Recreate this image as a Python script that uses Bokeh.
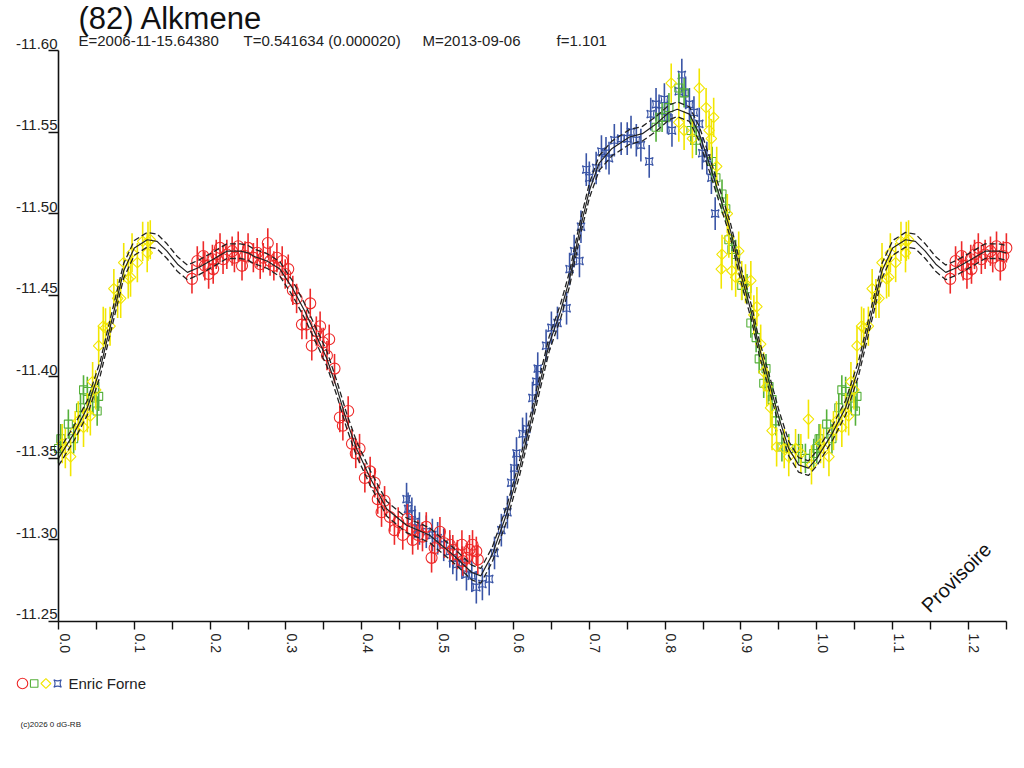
import math
import numpy as np
from bokeh.plotting import figure
from bokeh.models import Range1d, FixedTicker, Label
from bokeh.embed import file_html
from bokeh.resources import INLINE
from bokeh.core.properties import value

FONT = "Liberation Sans"

TITLE = "(82) Alkmene"
SUBTITLE_PARTS = ["E=2006-11-15.64380", "T=0.541634 (0.000020)", "M=2013-09-06", "f=1.101"]
OBSERVER = "Enric Forne"
STAMP = "Provisoire"
COPYRIGHT = "(c)2026 0 dG-RB"

x_ticks = [0.0, 0.1, 0.2, 0.3, 0.4, 0.5, 0.6, 0.7, 0.8, 0.9, 1.0, 1.1, 1.2]
x_minor = [0.05, 0.15, 0.25, 0.35, 0.45, 0.55, 0.65, 0.75, 0.85, 0.95, 1.05, 1.15, 1.25]
y_ticks = [-11.60, -11.55, -11.50, -11.45, -11.40, -11.35, -11.30, -11.25]

# Fourier fit (phase 0..1)
fit_phase = [0.000, 0.020, 0.038, 0.055, 0.073, 0.086, 0.100, 0.117, 0.130, 0.143,
             0.157, 0.170, 0.185, 0.204, 0.222, 0.240, 0.250, 0.257, 0.275, 0.292, 0.309,
             0.325, 0.341, 0.354, 0.367, 0.380, 0.393, 0.411, 0.433, 0.459, 0.489,
             0.520, 0.545, 0.557, 0.572, 0.591, 0.608, 0.625, 0.647, 0.662, 0.674,
             0.687, 0.700, 0.713, 0.730, 0.753, 0.770, 0.788, 0.805, 0.816, 0.832,
             0.845, 0.858, 0.871, 0.886, 0.901, 0.914, 0.924, 0.937, 0.950, 0.963,
             0.976, 0.989, 1.000]
fit_mag = [-11.350, -11.365, -11.381, -11.405, -11.440, -11.465, -11.479, -11.484, -11.483, -11.477,
           -11.469, -11.464, -11.467, -11.472, -11.477, -11.477, -11.476, -11.474, -11.471, -11.466, -11.454,
           -11.440, -11.424, -11.411, -11.393, -11.373, -11.356, -11.338, -11.319, -11.309, -11.303,
           -11.291, -11.280, -11.278, -11.291, -11.316, -11.344, -11.377, -11.420, -11.440, -11.460,
           -11.489, -11.514, -11.531, -11.540, -11.547, -11.549, -11.555, -11.562, -11.564, -11.561,
           -11.549, -11.531, -11.512, -11.490, -11.461, -11.439, -11.418, -11.397, -11.375, -11.356,
           -11.346, -11.344, -11.350]
fit_band = 0.0045

red_phase = [0.176, 0.183, 0.191, 0.193, 0.198, 0.203, 0.204, 0.208, 0.213, 0.217,
             0.222, 0.229, 0.232, 0.237, 0.242, 0.246, 0.250, 0.257, 0.262, 0.266,
             0.270, 0.276, 0.279, 0.284, 0.288, 0.295, 0.299, 0.303, 0.309, 0.314,
             0.321, 0.327, 0.332, 0.334, 0.340, 0.345, 0.349, 0.354, 0.357, 0.364,
             0.371, 0.375, 0.382, 0.387, 0.392, 0.397, 0.404, 0.411, 0.417, 0.421,
             0.426, 0.430, 0.437, 0.443, 0.448, 0.454, 0.460, 0.466, 0.467, 0.474,
             0.480, 0.485, 0.492, 0.496, 0.503, 0.509, 0.516, 0.520, 0.526, 0.532,
             0.533, 0.538, 0.542, 0.546, 0.551, 0.553]
red_mag = [-11.460, -11.471, -11.474, -11.468, -11.463, -11.472, -11.466, -11.475, -11.479, -11.472,
           -11.475, -11.477, -11.473, -11.480, -11.468, -11.474, -11.479, -11.473, -11.476, -11.469,
           -11.473, -11.482, -11.471, -11.468, -11.473, -11.471, -11.463, -11.466, -11.453, -11.448,
           -11.432, -11.432, -11.445, -11.419, -11.428, -11.431, -11.421, -11.413, -11.423, -11.405,
           -11.375, -11.370, -11.379, -11.359, -11.353, -11.356, -11.338, -11.342, -11.335, -11.325,
           -11.317, -11.324, -11.314, -11.306, -11.311, -11.303, -11.313, -11.306, -11.300, -11.303,
           -11.302, -11.308, -11.289, -11.295, -11.305, -11.298, -11.297, -11.294, -11.291, -11.297,
           -11.287, -11.289, -11.294, -11.297, -11.293, -11.288]
red_err = 0.009

green_phase = [0.000, 0.003, 0.013, 0.020, 0.029, 0.033, 0.038, 0.045, 0.051, 0.053,
               0.788, 0.796, 0.805, 0.818, 0.825, 0.834, 0.841, 0.862, 0.867, 0.875,
               0.880, 0.884, 0.888, 0.893, 0.901, 0.908, 0.913, 0.920, 0.924, 0.930,
               0.933, 0.937, 0.941, 0.946, 0.954, 0.963, 0.976, 0.985, 0.996]
green_mag = [-11.356, -11.362, -11.371, -11.362, -11.381, -11.392, -11.391, -11.387, -11.379, -11.388,
             -11.553, -11.559, -11.565, -11.577, -11.574, -11.551, -11.545, -11.532, -11.522, -11.512,
             -11.503, -11.484, -11.478, -11.475, -11.456, -11.454, -11.433, -11.424, -11.411, -11.396,
             -11.405, -11.394, -11.386, -11.373, -11.357, -11.356, -11.356, -11.350, -11.353]
green_err = 0.009

yellow_phase = [0.005, 0.009, 0.016, 0.022, 0.026, 0.033, 0.038, 0.042, 0.045, 0.049,
                0.053, 0.059, 0.062, 0.068, 0.073, 0.078, 0.082, 0.086, 0.092, 0.095,
                0.097, 0.104, 0.111, 0.117, 0.118, 0.121,
                0.808, 0.818, 0.825, 0.836, 0.845, 0.854, 0.858, 0.861, 0.864, 0.868,
                0.874, 0.875, 0.882, 0.884, 0.888, 0.893, 0.897, 0.901, 0.906, 0.913,
                0.917, 0.921, 0.926, 0.930, 0.934, 0.939, 0.941, 0.947, 0.957, 0.963,
                0.972, 0.979, 0.989, 0.993]
yellow_mag = [-11.359, -11.356, -11.351, -11.367, -11.373, -11.369, -11.378, -11.376, -11.397, -11.392,
              -11.419, -11.431, -11.430, -11.431, -11.454, -11.448, -11.448, -11.470, -11.460, -11.461,
              -11.476, -11.470, -11.483, -11.476, -11.483, -11.484,
              -11.580, -11.556, -11.551, -11.546, -11.577, -11.565, -11.551, -11.546, -11.559, -11.529,
              -11.466, -11.475, -11.500, -11.485, -11.465, -11.461, -11.477, -11.459, -11.457, -11.459,
              -11.438, -11.443, -11.420, -11.403, -11.394, -11.381, -11.367, -11.357, -11.356, -11.351,
              -11.356, -11.353, -11.374, -11.346]
yellow_err = 0.012

blue_phase = [0.459, 0.461, 0.466, 0.470, 0.476, 0.485, 0.493, 0.500, 0.508, 0.516,
              0.520, 0.525, 0.532, 0.538, 0.545, 0.551, 0.559, 0.568, 0.575, 0.584,
              0.592, 0.597, 0.601, 0.604, 0.612, 0.617, 0.625, 0.630, 0.632, 0.643,
              0.650, 0.658, 0.670, 0.674, 0.680, 0.687, 0.689, 0.696, 0.700, 0.709,
              0.716, 0.722, 0.726, 0.733, 0.742, 0.750, 0.755, 0.762, 0.768, 0.779,
              0.781, 0.788, 0.792, 0.799, 0.803, 0.809, 0.818, 0.822, 0.827, 0.832,
              0.838, 0.845, 0.849, 0.855, 0.861, 0.866]
blue_mag = [-11.325, -11.319, -11.316, -11.311, -11.307, -11.305, -11.303, -11.301, -11.297, -11.293,
            -11.289, -11.285, -11.286, -11.279, -11.278, -11.271, -11.273, -11.276, -11.292, -11.306,
            -11.317, -11.335, -11.344, -11.353, -11.365, -11.368, -11.387, -11.397, -11.405, -11.419,
            -11.430, -11.433, -11.442, -11.466, -11.477, -11.471, -11.492, -11.527, -11.522, -11.528,
            -11.538, -11.537, -11.534, -11.545, -11.546, -11.546, -11.550, -11.545, -11.542, -11.532,
            -11.561, -11.567, -11.563, -11.570, -11.559, -11.551, -11.575, -11.585, -11.574, -11.567,
            -11.562, -11.555, -11.537, -11.534, -11.522, -11.500]
blue_err = 0.010

WRAP = 0.25  # phases up to this are repeated one cycle later

series = [
    dict(phase=blue_phase, mag=blue_mag, err=blue_err, color="#3a55a6", marker="square_pin", size=8, angle=0.0),
    dict(phase=green_phase, mag=green_mag, err=green_err, color="#55b03a", marker="square", size=8, angle=0.0),
    dict(phase=yellow_phase, mag=yellow_mag, err=yellow_err, color="#f2e600", marker="square", size=7.5, angle=math.pi / 4),
    dict(phase=red_phase, mag=red_mag, err=red_err, color="#ee2a2a", marker="circle", size=11, angle=0.0),
]
legend_order = [3, 1, 2, 0]


def extend(ph, mg):
    ph = np.asarray(ph, dtype=float)
    mg = np.asarray(mg, dtype=float)
    m = ph <= WRAP
    return np.concatenate([ph, ph[m] + 1.0]), np.concatenate([mg, mg[m]])


# ---- canvas geometry (pixels) ----
W, H = 1016, 760
PHASE0_PX, PX_PER_PHASE = 58.0, 758.3      # where phase 0 sits, pixels per phase unit
MAGTOP_PX, PX_PER_MAG = 50.0, 1631.4       # where -11.60 sits, pixels per magnitude
MAG_TOP = y_ticks[0]
MAG_BOTTOM = y_ticks[-1]

x_lo = -PHASE0_PX / PX_PER_PHASE
x_hi = (W - PHASE0_PX) / PX_PER_PHASE
y_top = MAG_TOP - MAGTOP_PX / PX_PER_MAG
y_bot = MAG_TOP + (H - MAGTOP_PX) / PX_PER_MAG


def px_to_x(px):
    return x_lo + px / PX_PER_PHASE


def px_to_y(py):
    return y_top + py / PX_PER_MAG


p = figure(width=W, height=H, x_range=Range1d(x_lo, x_hi), y_range=Range1d(y_bot, y_top),
           output_backend="svg", toolbar_location=None, title_location=None, min_border=0)
p.xgrid.visible = False
p.ygrid.visible = False
p.outline_line_color = None
p.background_fill_color = "white"
p.border_fill_color = "white"

for s in series:
    x, y = extend(s["phase"], s["mag"])
    p.segment(x0=x, y0=y - s["err"], x1=x, y1=y + s["err"], line_color=s["color"], line_width=1.6)
    p.scatter(x=x, y=y, marker=s["marker"], size=s["size"], angle=s["angle"],
              fill_color=None, line_color=s["color"], line_width=1.1)

fx, fy = extend(fit_phase, fit_mag)
p.line(fx, fy, line_color="#222222", line_width=1.2)
p.line(fx, fy - fit_band, line_color="#222222", line_width=1.3, line_dash="6 3")
p.line(fx, fy + fit_band, line_color="#222222", line_width=1.3, line_dash="6 3")

# axes (fixed inside the canvas)
for ax in (p.xaxis[0], p.yaxis[0]):
    ax.axis_line_color = "#111111"
    ax.axis_line_width = 1.6
    ax.major_tick_line_color = "#111111"
    ax.minor_tick_line_color = "#111111"
    ax.major_tick_line_width = 1.4
    ax.minor_tick_line_width = 1.4
    ax.major_tick_in = 0
    ax.minor_tick_in = 0
    ax.major_label_text_color = None

xa = p.xaxis[0]
xa.fixed_location = MAG_BOTTOM
xa.bounds = (0.0, 1.25)
xa.ticker = FixedTicker(ticks=x_ticks, minor_ticks=x_minor)
xa.major_tick_out = 8
xa.minor_tick_out = 8

ya = p.yaxis[0]
ya.fixed_location = 0.0
ya.bounds = (MAG_TOP, MAG_BOTTOM)
ya.ticker = FixedTicker(ticks=y_ticks)
ya.major_tick_out = 10
ya.minor_tick_out = 0

# tick labels (sitting on top of the tick, as in the original)
p.text(x=[0.0] * len(y_ticks), y=y_ticks, text=["%.2f" % t for t in y_ticks],
       x_offset=-1, y_offset=-7, text_align="right", text_baseline="middle",
       text_font=value(FONT), text_font_size=value("15px"), text_color="#222222")
p.text(x=x_ticks, y=[MAG_BOTTOM] * len(x_ticks), text=["%.1f" % t for t in x_ticks],
       angle=-math.pi / 2, x_offset=6, y_offset=12, text_align="left", text_baseline="middle",
       text_font=value(FONT), text_font_size=value("14px"), text_color="#222222")

# title, parameters line, stamp
p.add_layout(Label(x=78, y=H - 18, x_units="screen", y_units="screen", text=TITLE,
                   text_font=FONT, text_font_size="31px", text_color="#111111",
                   text_baseline="middle"))
SUB_X = [78, 243, 422, 556]
for sx, part in zip(SUB_X, SUBTITLE_PARTS):
    p.add_layout(Label(x=sx, y=H - 40, x_units="screen", y_units="screen", text=part,
                       text_font=FONT, text_font_size="15px", text_color="#222222",
                       text_baseline="middle"))
p.add_layout(Label(x=1.184, y=-11.277, text=STAMP, angle=math.pi / 4,
                   text_align="center", text_baseline="middle",
                   text_font=FONT, text_font_size="20px", text_color="#111111"))

# legend row and copyright
LEG_X0, LEG_DX, LEG_Y, LEG_TEXT_X = 22, 11.7, 683, 68
for i, k in enumerate(legend_order):
    s = series[k]
    p.scatter(x=[px_to_x(LEG_X0 + i * LEG_DX)], y=[px_to_y(LEG_Y)], marker=s["marker"],
              size=s["size"] - 0.5, angle=s["angle"], fill_color=None,
              line_color=s["color"], line_width=1.1)
p.add_layout(Label(x=LEG_TEXT_X, y=H - LEG_Y, x_units="screen", y_units="screen", text=OBSERVER,
                   text_font=FONT, text_font_size="15px", text_color="#222222",
                   text_baseline="middle"))
p.add_layout(Label(x=20, y=H - 724, x_units="screen", y_units="screen", text=COPYRIGHT,
                   text_font=FONT, text_font_size="8px", text_color="#222222",
                   text_baseline="middle"))

open("out.html", "w").write(file_html(p, INLINE))
